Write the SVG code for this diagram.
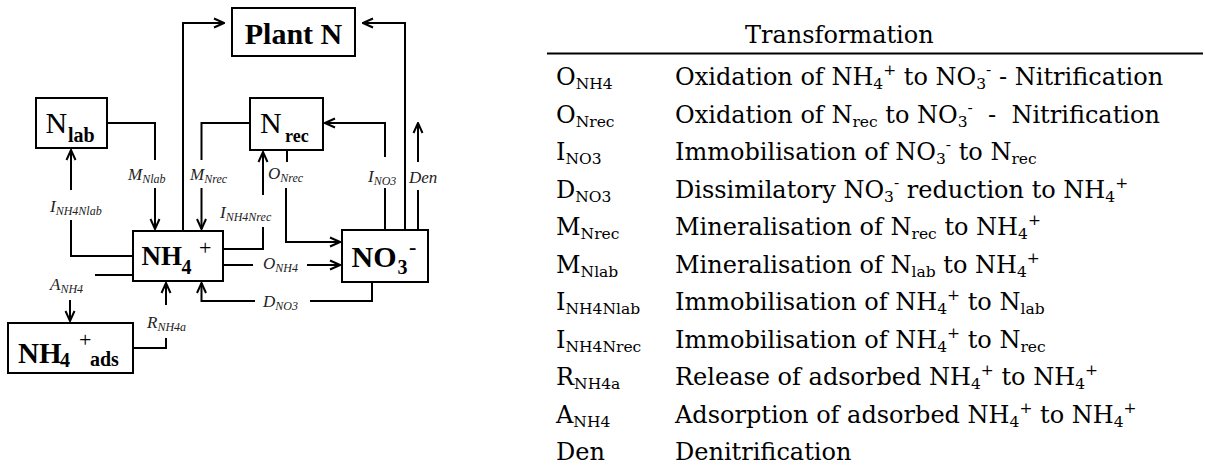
<svg xmlns="http://www.w3.org/2000/svg" width="1205" height="468" viewBox="0 0 1205 468">
  <style>
    .box { fill: #fff; stroke: #000; stroke-width: 2; }
    .ln { fill: none; stroke: #000; stroke-width: 2; }
    .arr { marker-end: url(#ah); }
    .nd { font-family: "Liberation Serif", "Times New Roman", serif; fill: #000; }
    .b { font-weight: bold; }
    .lbl { font-family: "Liberation Serif", "Times New Roman", serif; font-style: italic; font-size: 17px; fill: #222; }
    .s { font-size: 12px; }
    .tb { font-family: "DejaVu Serif", serif; font-size: 24px; fill: #000; white-space: pre; }
    .ts { font-size: 15.5px; }
  </style>
  <defs>
    <marker id="ah" viewBox="0 0 12 12" refX="11" refY="6" markerWidth="12" markerHeight="12" markerUnits="userSpaceOnUse" orient="auto">
      <path d="M1,1.5 L11,6 L1,10.5" fill="none" stroke="#000" stroke-width="2"/>
    </marker>
  </defs>

  <!-- pools -->
  <g id="plant-n">
    <rect class="box" x="232" y="8" width="123" height="48"/>
    <text class="nd b" x="293.5" y="44" font-size="30" text-anchor="middle">Plant N</text>
  </g>
  <g id="n-lab">
    <rect class="box" x="36" y="98" width="71" height="50"/>
    <text class="nd" x="45.5" y="133" font-size="30">N<tspan class="b" x="68" y="141.5" font-size="20">lab</tspan></text>
  </g>
  <g id="n-rec">
    <rect class="box" x="250" y="98" width="73" height="52"/>
    <text class="nd" x="260" y="133" font-size="30">N<tspan class="b" x="285" y="141.5" font-size="18">rec</tspan></text>
  </g>
  <g id="nh4">
    <rect class="box" x="133" y="231" width="90" height="50"/>
    <text class="nd b" x="141.5" y="265" font-size="27">NH<tspan x="181.5" y="274" font-size="20">4</tspan><tspan x="199" y="254.5" font-size="22" font-weight="normal">+</tspan></text>
  </g>
  <g id="no3">
    <rect class="box" x="342" y="230" width="86" height="52"/>
    <text class="nd b" x="351.5" y="266.5" font-size="30">NO<tspan x="397.5" y="274" font-size="20">3</tspan><tspan x="409" y="254" font-size="22">-</tspan></text>
  </g>
  <g id="nh4-ads">
    <rect class="box" x="8" y="323" width="125" height="50"/>
    <text class="nd b" x="18" y="362.5" font-size="29">NH<tspan x="60" y="367" font-size="20">4</tspan><tspan x="79" y="347" font-size="22" font-weight="normal">+</tspan><tspan x="90" y="366" font-size="20">ads</tspan></text>
  </g>

  <!-- fluxes -->
  <g id="connectors">
    <path class="ln arr" d="M183,231 V23 H224"/>
    <path class="ln arr" d="M405,230 V23 H363"/>
    <path class="ln" d="M107,123 H155 V160"/>
    <path class="ln arr" d="M155,188 V229"/>
    <path class="ln" d="M250,123 H201.5 V160"/>
    <path class="ln arr" d="M201.5,188 V229"/>
    <path class="ln" d="M133,256 H71 V220"/>
    <path class="ln arr" d="M71,190 V150"/>
    <path class="ln" d="M223,249 H263 V227"/>
    <path class="ln arr" d="M263,195 V152"/>
    <path class="ln" d="M287,150 V162"/>
    <path class="ln arr" d="M286,188 V242 H340"/>
    <path class="ln" d="M223,265 H253"/>
    <path class="ln arr" d="M307,265 H340"/>
    <path class="ln" d="M372,282 V301 H310"/>
    <path class="ln arr" d="M255,301 H201.5 V283"/>
    <path class="ln" d="M385,230 V188"/>
    <path class="ln arr" d="M385,157 V123 H325"/>
    <path class="ln" d="M418,230 V190"/>
    <path class="ln arr" d="M418,162 V123"/>
    <path class="ln" d="M133,275 H95"/>
    <path class="ln arr" d="M70,300 V321"/>
    <path class="ln" d="M133,348 H166 V338"/>
    <path class="ln arr" d="M166,305 V283"/>
  </g>

  <!-- flux labels -->
  <g id="flux-labels">
    <text class="lbl" x="128" y="180">M<tspan class="s" dy="3">Nlab</tspan></text>
    <text class="lbl" x="190" y="180">M<tspan class="s" dy="3">Nrec</tspan></text>
    <text class="lbl" x="50" y="212">I<tspan class="s" dy="3">NH4Nlab</tspan></text>
    <text class="lbl" x="220" y="218">I<tspan class="s" dy="3">NH4Nrec</tspan></text>
    <text class="lbl" x="268" y="179">O<tspan class="s" dy="3">Nrec</tspan></text>
    <text class="lbl" x="263" y="269">O<tspan class="s" dy="3">NH4</tspan></text>
    <text class="lbl" x="263" y="307">D<tspan class="s" dy="3">NO3</tspan></text>
    <text class="lbl" x="368" y="182">I<tspan class="s" dy="3">NO3</tspan></text>
    <text class="lbl" x="409" y="183">Den</text>
    <text class="lbl" x="50" y="290">A<tspan class="s" dy="3">NH4</tspan></text>
    <text class="lbl" x="147" y="328">R<tspan class="s" dy="3">NH4a</tspan></text>
  </g>

  <!-- legend table -->
  <g id="table">
    <text class="tb" x="745" y="43">Transformation</text>
    <line x1="547" y1="53.5" x2="1203" y2="53.5" stroke="#000" stroke-width="2"/>

    <text class="tb" x="556" y="85">O<tspan class="ts" dy="4">NH4</tspan></text>
    <text class="tb" x="556" y="122.5">O<tspan class="ts" dy="4">Nrec</tspan></text>
    <text class="tb" x="556" y="160">I<tspan class="ts" dy="4">NO3</tspan></text>
    <text class="tb" x="556" y="197.5">D<tspan class="ts" dy="4">NO3</tspan></text>
    <text class="tb" x="556" y="235">M<tspan class="ts" dy="4">Nrec</tspan></text>
    <text class="tb" x="556" y="272.5">M<tspan class="ts" dy="4">Nlab</tspan></text>
    <text class="tb" x="556" y="310">I<tspan class="ts" dy="4">NH4Nlab</tspan></text>
    <text class="tb" x="556" y="347.5">I<tspan class="ts" dy="4">NH4Nrec</tspan></text>
    <text class="tb" x="556" y="385">R<tspan class="ts" dy="4">NH4a</tspan></text>
    <text class="tb" x="556" y="422.5">A<tspan class="ts" dy="4">NH4</tspan></text>
    <text class="tb" x="556" y="460">Den</text>

    <text class="tb" x="675" y="85">Oxidation of NH<tspan class="ts" dy="4">4</tspan><tspan class="ts" dy="-14">+</tspan><tspan dy="10"> to NO</tspan><tspan class="ts" dy="4">3</tspan><tspan class="ts" dy="-14">-</tspan><tspan dy="10"> - Nitrification</tspan></text>
    <text class="tb" x="675" y="122.5">Oxidation of N<tspan class="ts" dy="4">rec</tspan><tspan dy="-4"> to NO</tspan><tspan class="ts" dy="4">3</tspan><tspan class="ts" dy="-14">-</tspan><tspan dy="10">  -  Nitrification</tspan></text>
    <text class="tb" x="675" y="160">Immobilisation of NO<tspan class="ts" dy="4">3</tspan><tspan class="ts" dy="-14">-</tspan><tspan dy="10"> to N</tspan><tspan class="ts" dy="4">rec</tspan></text>
    <text class="tb" x="675" y="197.5">Dissimilatory NO<tspan class="ts" dy="4">3</tspan><tspan class="ts" dy="-14">-</tspan><tspan dy="10"> reduction to NH</tspan><tspan class="ts" dy="4">4</tspan><tspan class="ts" dy="-14">+</tspan></text>
    <text class="tb" x="675" y="235">Mineralisation of N<tspan class="ts" dy="4">rec</tspan><tspan dy="-4"> to NH</tspan><tspan class="ts" dy="4">4</tspan><tspan class="ts" dy="-14">+</tspan></text>
    <text class="tb" x="675" y="272.5">Mineralisation of N<tspan class="ts" dy="4">lab</tspan><tspan dy="-4"> to NH</tspan><tspan class="ts" dy="4">4</tspan><tspan class="ts" dy="-14">+</tspan></text>
    <text class="tb" x="675" y="310">Immobilisation of NH<tspan class="ts" dy="4">4</tspan><tspan class="ts" dy="-14">+</tspan><tspan dy="10"> to N</tspan><tspan class="ts" dy="4">lab</tspan></text>
    <text class="tb" x="675" y="347.5">Immobilisation of NH<tspan class="ts" dy="4">4</tspan><tspan class="ts" dy="-14">+</tspan><tspan dy="10"> to N</tspan><tspan class="ts" dy="4">rec</tspan></text>
    <text class="tb" x="675" y="385">Release of adsorbed NH<tspan class="ts" dy="4">4</tspan><tspan class="ts" dy="-14">+</tspan><tspan dy="10"> to NH</tspan><tspan class="ts" dy="4">4</tspan><tspan class="ts" dy="-14">+</tspan></text>
    <text class="tb" x="675" y="422.5">Adsorption of adsorbed NH<tspan class="ts" dy="4">4</tspan><tspan class="ts" dy="-14">+</tspan><tspan dy="10"> to NH</tspan><tspan class="ts" dy="4">4</tspan><tspan class="ts" dy="-14">+</tspan></text>
    <text class="tb" x="675" y="460">Denitrification</text>
  </g>
</svg>
